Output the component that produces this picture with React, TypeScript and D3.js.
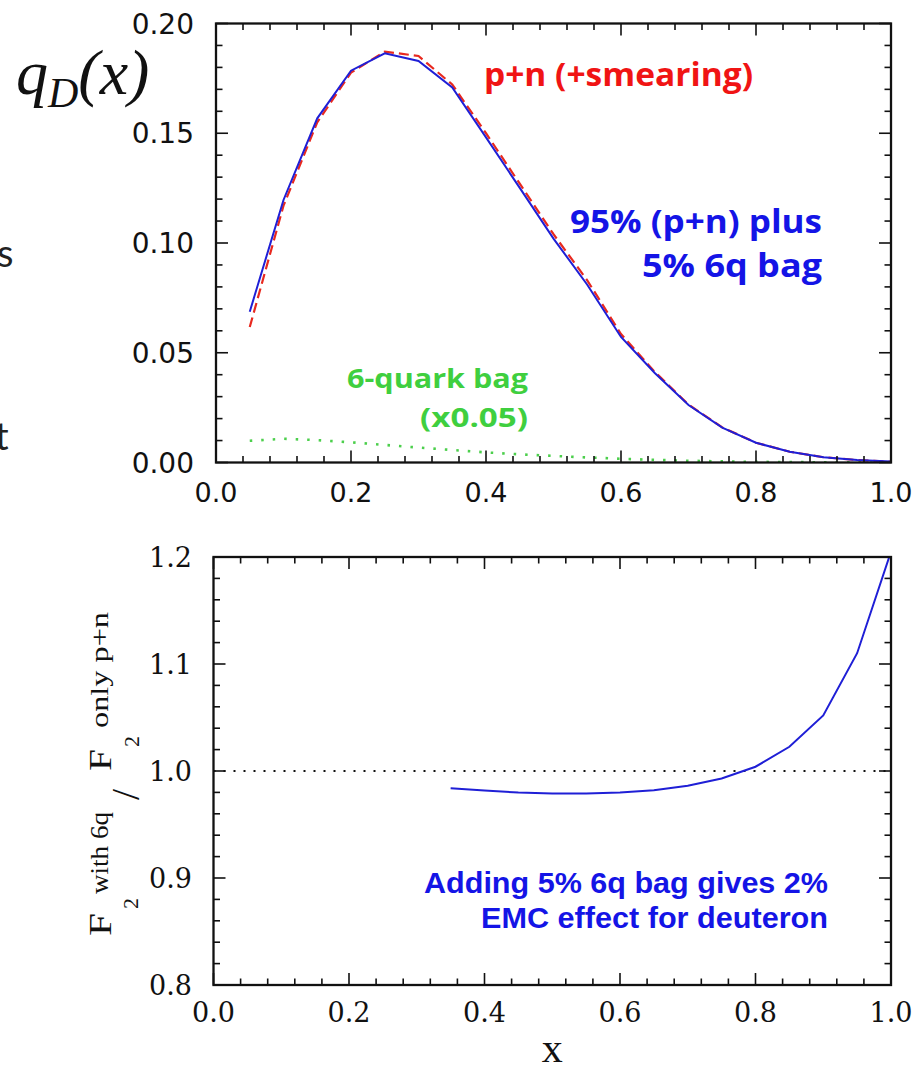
import React from 'react';
import * as d3 from 'd3';

// ---------- data ----------
const xGrid = [0.05, 0.10, 0.15, 0.20, 0.25, 0.30, 0.35, 0.40, 0.45, 0.50, 0.55, 0.60, 0.65, 0.70, 0.75, 0.80, 0.85, 0.90, 0.95, 1.00];
// 95% (p+n) plus 5% 6q bag (blue solid)
const qMixed = [0.0687, 0.1196, 0.1568, 0.1785, 0.1864, 0.1829, 0.1709, 0.1481, 0.1251, 0.1020, 0.0810, 0.0572, 0.0408, 0.0262, 0.0159, 0.0090, 0.0049, 0.0024, 0.0011, 0.0004];
// p+n (+smearing) (red dashed)
const qPN = [0.0617, 0.1170, 0.1550, 0.1776, 0.1872, 0.1852, 0.1722, 0.1500, 0.1270, 0.1040, 0.0830, 0.0585, 0.0413, 0.0264, 0.0160, 0.0090, 0.0049, 0.0024, 0.0011, 0.0004];
// 6-quark bag (x0.05) (green dotted)
const q6q = [0.0099, 0.0108, 0.0102, 0.0092, 0.0080, 0.0068, 0.0057, 0.0046, 0.0037, 0.0030, 0.0023, 0.0017, 0.0012, 0.0008, 0.0005, 0.0003, 0.0002, 0.0001, 0.00005, 0.0];

const xRatio = [0.35, 0.40, 0.45, 0.50, 0.55, 0.60, 0.65, 0.70, 0.75, 0.80, 0.85, 0.90, 0.95, 1.00];
const ratio = [0.9838, 0.9817, 0.9798, 0.9789, 0.9789, 0.9798, 0.9820, 0.9862, 0.9930, 1.0040, 1.0226, 1.0520, 1.1101, 1.2050];

const xTickValues = [0.0, 0.2, 0.4, 0.6, 0.8, 1.0];
const xTickLabels = ['0.0', '0.2', '0.4', '0.6', '0.8', '1.0'];
const topYTickValues = [0.0, 0.05, 0.10, 0.15, 0.20];
const topYTickLabels = ['0.00', '0.05', '0.10', '0.15', '0.20'];
const botYTickValues = [0.8, 0.9, 1.0, 1.1, 1.2];
const botYTickLabels = ['0.8', '0.9', '1.0', '1.1', '1.2'];

// ---------- layout ----------
const W = 913;
const H = 1073;
const TOP = { l: 216, r: 891, t: 23.5, b: 462.5 };
const BOT = { l: 213.5, r: 891, t: 557, b: 985 };

const xTop = d3.scaleLinear().domain([0, 1]).range([TOP.l, TOP.r]);
const yTop = d3.scaleLinear().domain([0, 0.2]).range([TOP.b, TOP.t]);
const xBot = d3.scaleLinear().domain([0, 1]).range([BOT.l, BOT.r]);
const yBot = d3.scaleLinear().domain([0.8, 1.2]).range([BOT.b, BOT.t]);

const xMinor = d3.range(0, 1.0001, 0.04);
const topYMinor = d3.range(0, 0.2001, 0.01);
const botYMinor = d3.range(0.8, 1.2001, 0.02);

const isIn = (v: number, arr: number[]) => arr.some((a) => Math.abs(a - v) < 1e-6);

function Frame({ box, xs, ys, xMin, xMaj, yMin, yMaj }: any) {
  const maj = 12;
  const min = 6.5;
  return (
    <g stroke="#111" fill="none">
      {xMin.map((v: number, i: number) => {
        const px = xs(v);
        const L = isIn(v, xMaj) ? maj : min;
        return (
          <g key={'x' + i} strokeWidth={1.6}>
            <line x1={px} x2={px} y1={box.b} y2={box.b - L} />
            <line x1={px} x2={px} y1={box.t} y2={box.t + L} />
          </g>
        );
      })}
      {yMin.map((v: number, i: number) => {
        const py = ys(v);
        const L = isIn(v, yMaj) ? maj : min;
        return (
          <g key={'y' + i} strokeWidth={1.6}>
            <line x1={box.l} x2={box.l + L} y1={py} y2={py} />
            <line x1={box.r} x2={box.r - L} y1={py} y2={py} />
          </g>
        );
      })}
      <rect x={box.l} y={box.t} width={box.r - box.l} height={box.b - box.t} strokeWidth={2.3} />
    </g>
  );
}

export default function App() {
  const lineTop = d3
    .line<[number, number]>()
    .x((d) => xTop(d[0]))
    .y((d) => yTop(d[1]));
  const lineBot = d3
    .line<[number, number]>()
    .x((d) => xBot(d[0]))
    .y((d) => yBot(d[1]));

  const mixed = xGrid.map((x, i) => [x, qMixed[i]] as [number, number]);
  const pn = xGrid.map((x, i) => [x, qPN[i]] as [number, number]);
  const six = xGrid.map((x, i) => [x, q6q[i]] as [number, number]);
  const rat = xRatio.map((x, i) => [x, ratio[i]] as [number, number]);

  const comic = "'Open Sans', 'Noto Sans', sans-serif";
  const serif = "'DejaVu Serif', 'Liberation Serif', serif";
  const sans = "'DejaVu Sans', 'Liberation Sans', sans-serif";
  const times = "'Liberation Serif', 'Times New Roman', serif";

  return (
    <svg
      width={W}
      height={H}
      style={{ position: 'absolute', left: 0, top: 0, background: '#fff' }}
      xmlns="http://www.w3.org/2000/svg"
    >
      <rect x={0} y={0} width={W} height={H} fill="#fff" />
      <defs>
        <clipPath id="clipBot">
          <rect x={BOT.l} y={BOT.t} width={BOT.r - BOT.l} height={BOT.b - BOT.t} />
        </clipPath>
        <clipPath id="clipTop">
          <rect x={TOP.l} y={TOP.t} width={TOP.r - TOP.l} height={TOP.b - TOP.t} />
        </clipPath>
      </defs>

      {/* slide remnants on the left edge (cut off in the reference as well) */}
      <text x={-3} y={267} fontFamily="Lato, 'Open Sans', sans-serif" fontSize={38} fill="#222">s</text>
      <text x={-5} y={450} fontFamily="Lato, 'Open Sans', sans-serif" fontSize={38} fill="#222">t</text>

      {/* q_D(x) */}
      <text x={16} y={94} fontFamily={times} fontStyle="italic" fontSize={64} fill="#111">
        q<tspan fontSize={42} dy={13}>D</tspan>
        <tspan dy={-13}>(x)</tspan>
      </text>

      {/* ---------- top panel ---------- */}
      <g clipPath="url(#clipTop)">
        <path d={lineTop(six) || ''} fill="none" stroke="#4ccf4c" strokeWidth={2.6} strokeDasharray="2.5,9" />
        <path d={lineTop(pn) || ''} fill="none" stroke="#e8291f" strokeWidth={2.2} strokeDasharray="10,5" />
        <path d={lineTop(mixed) || ''} fill="none" stroke="#1f1fd6" strokeWidth={2} />
      </g>
      <Frame box={TOP} xs={xTop} ys={yTop} xMin={xMinor} xMaj={xTickValues} yMin={topYMinor} yMaj={topYTickValues} />
      {topYTickValues.map((v, i) => (
        <text key={'ty' + i} x={194} y={yTop(v) + 10} textAnchor="end" fontFamily={sans} fontSize={28} fill="#111">
          {topYTickLabels[i]}
        </text>
      ))}
      {xTickValues.map((v, i) => (
        <text key={'tx' + i} x={xTop(v)} y={502} textAnchor="middle" fontFamily={sans} fontSize={27} fill="#111">
          {xTickLabels[i]}
        </text>
      ))}

      <text x={484} y={86} fontFamily={comic} fontWeight={700} fontSize={32} fill="#f01414" textLength={269} lengthAdjust="spacingAndGlyphs">
        p+n (+smearing)
      </text>
      <text x={570} y={233} fontFamily={comic} fontWeight={700} fontSize={33} fill="#1414e6" textLength={252} lengthAdjust="spacingAndGlyphs">
        95% (p+n) plus
      </text>
      <text x={642} y={277} fontFamily={comic} fontWeight={700} fontSize={33} fill="#1414e6" textLength={180} lengthAdjust="spacingAndGlyphs">
        5% 6q bag
      </text>
      <text x={347} y={388} fontFamily={comic} fontWeight={700} fontSize={27} fill="#3fcf3f" textLength={181} lengthAdjust="spacingAndGlyphs">
        6-quark bag
      </text>
      <text x={420} y={427} fontFamily={comic} fontWeight={700} fontSize={27} fill="#3fcf3f" textLength={108} lengthAdjust="spacingAndGlyphs">
        (x0.05)
      </text>

      {/* ---------- bottom panel ---------- */}
      <line
        x1={BOT.l}
        x2={BOT.r}
        y1={yBot(1.0)}
        y2={yBot(1.0)}
        stroke="#111"
        strokeWidth={2}
        strokeDasharray="2,8"
      />
      <g clipPath="url(#clipBot)">
        <path d={lineBot(rat) || ''} fill="none" stroke="#1f1fd6" strokeWidth={2} />
      </g>
      <Frame box={BOT} xs={xBot} ys={yBot} xMin={xMinor} xMaj={xTickValues} yMin={botYMinor} yMaj={botYTickValues} />
      {botYTickValues.map((v, i) => (
        <text key={'by' + i} x={192} y={yBot(v) + 10} textAnchor="end" fontFamily={serif} fontSize={27} fill="#111">
          {botYTickLabels[i]}
        </text>
      ))}
      {xTickValues.map((v, i) => (
        <text key={'bx' + i} x={xBot(v)} y={1022} textAnchor="middle" fontFamily={serif} fontSize={27} fill="#111">
          {xTickLabels[i]}
        </text>
      ))}
      <text x={xBot(0.5)} y={1062} textAnchor="middle" fontFamily={times} fontSize={42} fill="#111">
        x
      </text>

      {/* rotated y-axis label: F2^(with 6q) / F2^(only p+n) */}
      <g transform="rotate(-90)" fontFamily={times} fill="#111">
        <text x={-936} y={111} fontSize={32} textLength={23} lengthAdjust="spacingAndGlyphs">F</text>
        <text x={-909} y={138} fontSize={22}>2</text>
        <text x={-894} y={108} fontSize={25} textLength={82} lengthAdjust="spacingAndGlyphs">with 6q</text>
        <text x={-800} y={139} fontSize={40}>/</text>
        <text x={-771} y={111} fontSize={32} textLength={22} lengthAdjust="spacingAndGlyphs">F</text>
        <text x={-747} y={139} fontSize={22}>2</text>
        <text x={-728} y={108} fontSize={25} textLength={116} lengthAdjust="spacingAndGlyphs">only p+n</text>
      </g>

      <text x={424} y={893} fontFamily="'Liberation Sans', Arial, sans-serif" fontWeight={700} fontSize={29} fill="#1414e6" textLength={404} lengthAdjust="spacingAndGlyphs">
        Adding 5% 6q bag gives 2%
      </text>
      <text x={481} y={928} fontFamily="'Liberation Sans', Arial, sans-serif" fontWeight={700} fontSize={29} fill="#1414e6" textLength={347} lengthAdjust="spacingAndGlyphs">
        EMC effect for deuteron
      </text>
    </svg>
  );
}
